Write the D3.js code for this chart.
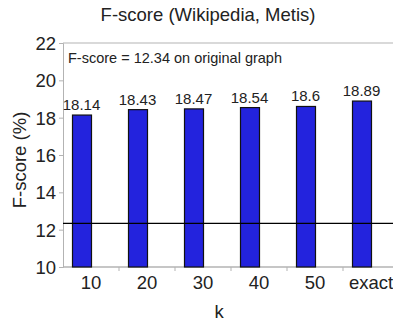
<html>
<head>
<script src="https://d3js.org/d3.v7.min.js"></script>
<style>
  body { margin: 0; background: #fff; }
  text { font-family: "Liberation Sans", Arial, sans-serif; fill: #222; }
</style>
</head>
<body>
<svg id="chart" width="393" height="322"></svg>
<script>
// data
var categories = ["10", "20", "30", "40", "50", "exact"];
var fscores = [18.14, 18.43, 18.47, 18.54, 18.6, 18.89];
var valueLabels = ["18.14", "18.43", "18.47", "18.54", "18.6", "18.89"];
var baseline = 12.34;
var yTicks = [10, 12, 14, 16, 18, 20, 22];

var svg = d3.select("#chart");
var plotLeft = 63, plotTop = 43, plotBottom = 267, plotRight = 399;

var x = d3.scaleBand()
	.domain(categories)
	.range([plotLeft, plotRight])
	.padding(0);

var y = d3.scaleLinear()
	.domain([10, 22])
	.range([plotBottom, plotTop]);

// title
svg.append("text")
	.attr("x", 208).attr("y", 21)
	.attr("text-anchor", "middle")
	.style("font-size", "18.5px")
	.text("F-score (Wikipedia, Metis)");

// frame top line
svg.append("line")
	.attr("x1", plotLeft).attr("x2", 393)
	.attr("y1", plotTop).attr("y2", plotTop)
	.attr("stroke", "#b3b3b3");

// y axis
var yAxis = d3.axisLeft(y).tickValues(yTicks).tickSize(4).tickPadding(3);
var gy = svg.append("g").attr("transform", "translate(" + plotLeft + ",0)").call(yAxis);
gy.selectAll("text").style("font-size", "18.5px").attr("dy", "0.35em").style("font-family", "Liberation Sans, Arial, sans-serif").attr("fill", "#222");
gy.select(".domain").attr("stroke", "#b3b3b3");
gy.selectAll(".tick line").attr("stroke", "#b3b3b3");

// x axis: ticks at band boundaries
var gx = svg.append("g").attr("transform", "translate(0," + plotBottom + ")");
gx.append("line").attr("x1", plotLeft).attr("x2", 393).attr("stroke", "#b3b3b3").attr("stroke-width", 1.5);
gx.selectAll(".sep").data(categories.slice(1))
	.enter().append("line")
	.attr("x1", function(d){ return x(d); })
	.attr("x2", function(d){ return x(d); })
	.attr("y1", 0).attr("y2", 4)
	.attr("stroke", "#b3b3b3");
gx.selectAll(".lbl").data(categories)
	.enter().append("text")
	.attr("x", function(d){ return x(d) + x.bandwidth() / 2; })
	.attr("y", 22)
	.attr("text-anchor", "middle")
	.style("font-size", "18.5px")
	.text(function(d){ return d; });

// bars (left half of each band)
var barOff = 9, barW = 19;
svg.selectAll(".bar").data(fscores)
	.enter().append("rect")
	.attr("x", function(d, i){ return x(categories[i]) + barOff + 0.5; })
	.attr("y", function(d){ return y(d); })
	.attr("width", barW)
	.attr("height", function(d){ return y(10) - y(d); })
	.attr("fill", "#2323dd")
	.attr("stroke", "#111")
	.attr("stroke-width", 1.2);

svg.selectAll(".val").data(fscores)
	.enter().append("text")
	.attr("x", function(d, i){ return x(categories[i]) + barOff + barW / 2; })
	.attr("y", function(d){ return y(d) - 5; })
	.attr("text-anchor", "middle")
	.style("font-size", "15px")
	.text(function(d, i){ return valueLabels[i]; });

// baseline from original graph
svg.append("line")
	.attr("x1", plotLeft).attr("x2", 393)
	.attr("y1", y(baseline)).attr("y2", y(baseline))
	.attr("stroke", "#000")
	.attr("stroke-width", 1.2);

svg.append("text")
	.attr("x", 68).attr("y", 63)
	.style("font-size", "14.5px")
	.text("F-score = " + baseline + " on original graph");

// axis titles
svg.append("text")
	.attr("transform", "translate(26,160) rotate(-90)")
	.attr("text-anchor", "middle")
	.style("font-size", "18.5px")
	.text("F-score (%)");

svg.append("text")
	.attr("x", 219).attr("y", 318)
	.attr("text-anchor", "middle")
	.style("font-size", "18.5px")
	.text("k");
</script>
</body>
</html>
